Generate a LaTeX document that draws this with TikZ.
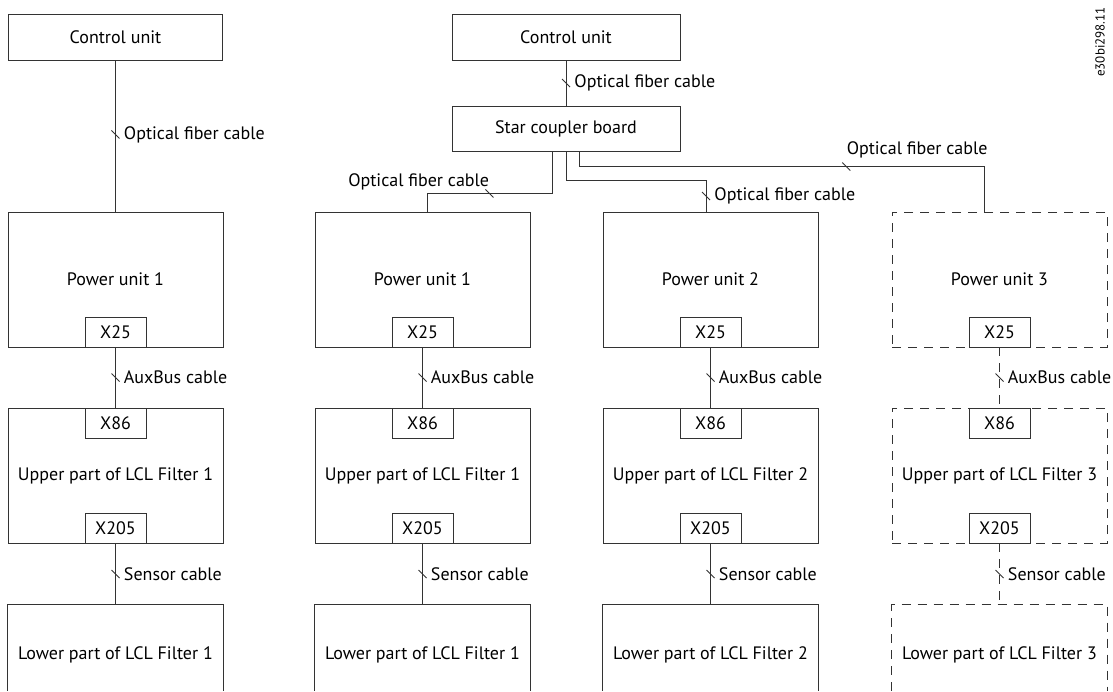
\documentclass[tikz,border=0pt]{standalone}
\usepackage{fontspec}
\setmainfont{PT Sans}
\usetikzlibrary{positioning}
\tikzset{
  box/.style={minimum width=215pt, minimum height=135pt, inner sep=0pt},
  lowbox/.style={minimum width=215pt, minimum height=100pt, inner sep=0pt},
  port/.style={draw, solid, fill=white, minimum width=61pt, minimum height=30pt, inner sep=0pt},
  opt/.style={dash pattern=on 9pt off 7pt},
  lbl/.style={anchor=west, inner sep=0pt, xshift=8pt},
  pics/cablecut/.style={code={\draw[solid] (-4,-4)--(4,4);}}
}
\begin{document}
\begin{tikzpicture}[x=1pt, y=-1pt, line width=0.9pt, draw=black!80, font=\fontsize{18}{20}\selectfont]
\useasboundingbox (0,0) rectangle (1113,691);
% control units and star coupler
\node[draw, minimum width=214pt, minimum height=46pt] (cuA) at (115.5,37) {Control unit};
\node[draw, minimum width=228pt, minimum height=46pt] (cuB) at (566,37) {Control unit};
\node[draw, minimum width=228pt, minimum height=45pt] (scb) at (566,128.5) {Star coupler board};
% columns
\foreach \n/\x/\t/\s in {a/115.5/1/solid, b/422.5/1/solid, c/710.5/2/solid, d/999.5/3/opt}{
  \node[box, draw, \s] (pu\n) at (\x,279.5) {Power unit \t};
  \node[box, draw, \s] (up\n) at (\x,475.5) {Upper part of LCL Filter \t};
  \node[lowbox] (lo\n) at (\x,655) {Lower part of LCL Filter \t};
  \draw[\s] (lo\n.north west) ++(0,86) -- ++(0,-86) -- (lo\n.north east) -- ++(0,86);
  \node[port] (xa\n) at (\x,332) {X25};
  \node[port] (xb\n) at (\x,423) {X86};
  \node[port] (xc\n) at (\x,528) {X205};
  \draw[\s] (xa\n) -- pic[pos=.5]{cablecut} node[lbl, pos=.5]{AuxBus cable} (xb\n);
  \draw[\s] (xc\n) -- pic[pos=.5]{cablecut} node[lbl, pos=.5]{Sensor cable} (lo\n.north);
}
% optical fiber cables
\draw (cuA) -- pic[pos=.49]{cablecut} node[lbl, pos=.49]{Optical fiber cable} (pua);
\draw (cuB) -- pic[pos=.5]{cablecut} node[lbl, pos=.5]{Optical fiber cable} (scb);
\draw ([xshift=-14pt]scb.south) -- ++(0,42) -| pic[pos=.25]{cablecut}
  node[pos=.25, anchor=east, inner sep=0pt, yshift=12pt]{Optical fiber cable} ([xshift=4.5pt]pub.north);
\draw (scb.south) -- ++(0,29) -| pic[pos=.75]{cablecut}
  node[lbl, pos=.75]{Optical fiber cable} ([xshift=-4.5pt]puc.north);
\draw ([xshift=13pt]scb.south) -- ++(0,15) -| pic[pos=.33]{cablecut}
  node[pos=.33, anchor=west, inner sep=0pt, yshift=17pt]{Optical fiber cable} ([xshift=-15.5pt]pud.north);
\node[rotate=90, font=\fontsize{13}{14}\selectfont] (code) at (1100,42) {e30bi298.11};
\end{tikzpicture}
\end{document}
